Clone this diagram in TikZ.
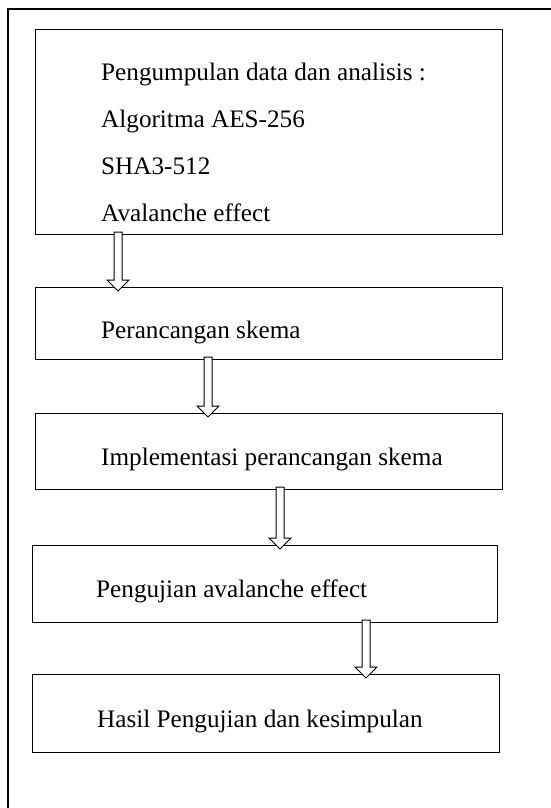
\documentclass[tikz,border=0pt]{standalone}
\usepackage{fontspec}
\setmainfont{Liberation Serif}
\usepackage{tikz}
\usetikzlibrary{calc}

\tikzset{
  stepbox/.style={draw,line width=1.2pt,anchor=north west,inner sep=0pt},
  steptext/.style={anchor=base west,inner sep=0pt,font=\fontsize{25.2}{30}\selectfont},
  hollow/.style={draw,line width=1pt,fill=white,line join=miter}
}

\begin{document}
\begin{tikzpicture}[x=1pt,y=-1pt]
\useasboundingbox (0,0) rectangle (550,808);
\draw[line width=1.1pt] (8,9) rectangle (580,840);

\node[stepbox,minimum width=467pt,minimum height=205pt] (collect) at (35,29) {};
\node[stepbox,minimum width=467pt,minimum height=72pt] (design) at (35,287) {};
\node[stepbox,minimum width=467pt,minimum height=76pt] (impl) at (35,413) {};
\node[stepbox,minimum width=465pt,minimum height=77pt] (test) at (32,545) {};
\node[stepbox,minimum width=467pt,minimum height=78pt] (result) at (32,674) {};

\foreach \txt [count=\i] in {Pengumpulan data dan analisis :, Algoritma AES-256, SHA3-512, Avalanche effect}{
\node[steptext] (collect-\i) at (101,34.3+46.7*\i) {\txt};
}
\node[steptext] (design-text) at (101,338) {Perancangan skema};
\node[steptext] (impl-text) at (101,465) {Implementasi perancangan skema};
\node[steptext] (test-text) at (96,597) {Pengujian avalanche effect};
\node[steptext] (result-text) at (97,727) {Hasil Pengujian dan kesimpulan};

% hollow arrows between the steps
\foreach \a/\b/\x in {collect/design/118, design/impl/208, impl/test/280, test/result/366}{
\coordinate (top) at ([yshift=3pt]\a.south -| \x,0);
\coordinate (tip) at ([yshift=-4pt]\b.north -| \x,0);
\draw[hollow] ([xshift=-4pt]top) -- ([shift={(-4,-11)}]tip) -- ([shift={(-11,-11)}]tip) -- (tip)
  -- ([shift={(11,-11)}]tip) -- ([shift={(4,-11)}]tip) -- ([xshift=4pt]top) -- cycle;
}
\end{tikzpicture}
\end{document}
